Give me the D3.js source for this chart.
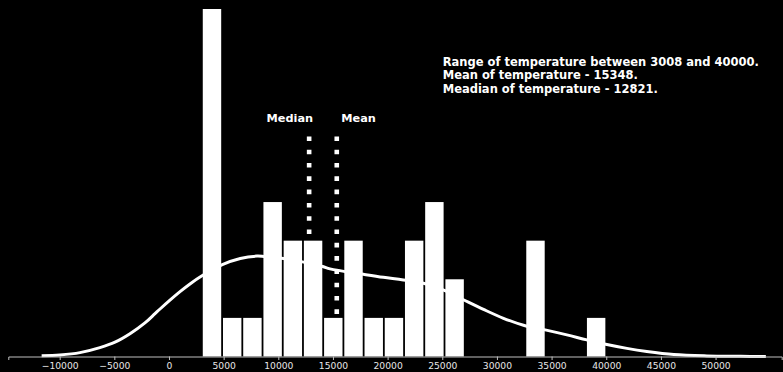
<!DOCTYPE html>
<html>
<head>
<meta charset="utf-8">
<script src="https://cdn.jsdelivr.net/npm/d3@7"></script>
<style>
  html, body { margin: 0; padding: 0; background: #000; }
  svg { display: block; }
</style>
</head>
<body>
<svg id="chart" width="783" height="372"></svg>
<script>
// Temperature histogram: 20 equal bins between the min and max reading
const tempMin = 3008;
const tempMax = 40000;
const binCounts = [9, 1, 1, 4, 3, 3, 1, 3, 1, 1, 3, 4, 2, 0, 0, 0, 3, 0, 0, 1];

// Summary statistics
const meanTemp = 15348;
const medianTemp = 12821;

// Kernel density estimate, expressed on the same scale as the bin counts
const kdeTemp = [-11650, -9980, -8150, -6320, -4940, -3570, -2200, -1280, -820, 90, 1010, 1920, 3020,
  4880, 6520, 8050, 8700, 10460, 12200, 14060, 14730, 17780, 19610, 21440, 23360, 25190,
  26930, 28770, 30600, 32430, 34410, 36400, 38230, 40060, 41890, 43710, 46180, 49200, 52300, 54600];
const kdeCount = [0.02, 0.04, 0.10, 0.23, 0.37, 0.59, 0.87, 1.11, 1.23, 1.46, 1.68, 1.88, 2.09,
  2.38, 2.54, 2.60, 2.59, 2.54, 2.45, 2.33, 2.27, 2.13, 2.05, 1.98, 1.89, 1.71,
  1.47, 1.22, 0.99, 0.81, 0.69, 0.56, 0.43, 0.31, 0.21, 0.13, 0.05, 0.015, 0.005, 0];

// Axis ticks
const xTicks = [-10000, -5000, 0, 5000, 10000, 15000, 20000, 25000, 30000, 35000, 40000, 45000, 50000];

// Dotted marker lines span this count range
const markerSpan = [1.04, 5.7];

const infoLines = [
  "Range of temperature between 3008 and 40000.",
  "Mean of temperature - 15348.",
  "Meadian of temperature - 12821."
];

const svg = d3.select("#chart");
const left = 8.3, right = 781.7, baseY = 356.5;

const x = d3.scaleLinear().domain([-14700, 56050]).range([left, right]);
const y = d3.scaleLinear().domain([0, 9]).range([baseY, 9]);

const binW = (tempMax - tempMin) / binCounts.length;
const bins = binCounts.map((c, i) => ({ x0: tempMin + i * binW, x1: tempMin + (i + 1) * binW, count: c }));

// bars
svg.append("g")
  .selectAll("rect")
  .data(bins.filter(d => d.count > 0))
  .join("rect")
  .attr("x", d => x(d.x0) + 0.9)
  .attr("width", d => x(d.x1) - x(d.x0) - 1.8)
  .attr("y", d => y(d.count))
  .attr("height", d => y(0) - y(d.count))
  .attr("fill", "#ffffff");

// density curve
const kde = kdeTemp.map((t, i) => [t, kdeCount[i]]);
svg.append("path")
  .datum(kde)
  .attr("fill", "none")
  .attr("stroke", "#ffffff")
  .attr("stroke-width", 3)
  .attr("stroke-linejoin", "round")
  .attr("d", d3.line().x(d => x(d[0])).y(d => y(d[1])).curve(d3.curveCatmullRom.alpha(0.5)));

// median / mean dotted lines
const markers = [
  { name: "Median", value: medianTemp, anchor: "end", dx: 4 },
  { name: "Mean", value: meanTemp, anchor: "start", dx: 4.5 }
];
svg.append("g")
  .selectAll("line")
  .data(markers)
  .join("line")
  .attr("x1", d => x(d.value))
  .attr("x2", d => x(d.value))
  .attr("y1", y(markerSpan[1]))
  .attr("y2", y(markerSpan[0]))
  .attr("stroke", "#ffffff")
  .attr("stroke-width", 4.6)
  .attr("stroke-dasharray", "4.6 8.7");

svg.append("g")
  .selectAll("text")
  .data(markers)
  .join("text")
  .attr("x", d => x(d.value) + d.dx)
  .attr("y", 122)
  .attr("text-anchor", d => d.anchor)
  .attr("fill", "#ffffff")
  .attr("font-family", "DejaVu Sans")
  .attr("font-weight", "bold")
  .attr("font-size", "11.3px")
  .text(d => d.name);

// info text
svg.append("text")
  .attr("x", 442.7)
  .attr("y", 66)
  .attr("fill", "#ffffff")
  .attr("font-family", "DejaVu Sans")
  .attr("font-weight", "bold")
  .attr("font-size", "11.5px")
  .selectAll("tspan")
  .data(infoLines)
  .join("tspan")
  .attr("x", 442.7)
  .attr("dy", (d, i) => i === 0 ? 0 : 13.3)
  .text(d => d);

// x axis
const axis = d3.axisBottom(x)
  .tickValues(xTicks)
  .tickSize(3.5)
  .tickPadding(2.5)
  .tickFormat(d => d < 0 ? "\u2212" + Math.abs(d) : String(d));

const gx = svg.append("g")
  .attr("transform", `translate(0,${baseY})`)
  .call(axis);
gx.select(".domain").attr("stroke", "#bfbfbf").attr("stroke-width", 1);
gx.selectAll(".tick line").attr("stroke", "#bfbfbf").attr("stroke-width", 1);
gx.selectAll(".tick text")
  .attr("fill", "#e6e6e6")
  .attr("font-family", "DejaVu Sans")
  .attr("font-size", "9.2px");
</script>
</body>
</html>
